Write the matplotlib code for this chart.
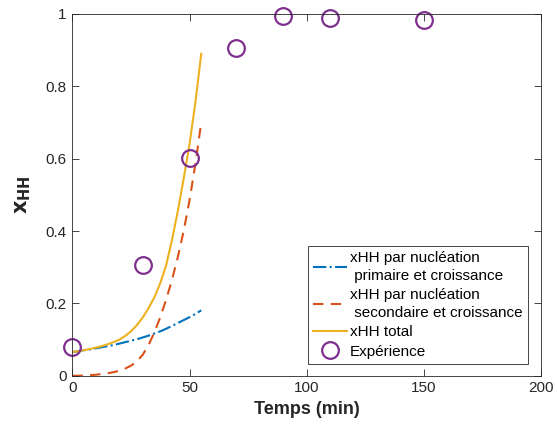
import matplotlib
matplotlib.use("Agg")
import matplotlib.pyplot as plt
from matplotlib.ticker import FuncFormatter

plt.rcParams['font.family'] = ['Liberation Sans', 'DejaVu Sans']

# model time (min)
t_model = [0, 2.5, 5, 7.5, 10, 12.5, 15, 17.5, 20, 22.5, 25, 27.5, 30, 32.5,
           35, 37.5, 40, 42.5, 45, 47.5, 50, 52.5, 55]
x_primaire = [0.066, 0.068, 0.071, 0.073, 0.076, 0.079, 0.082, 0.085, 0.089, 0.093,
              0.097, 0.101, 0.106, 0.111, 0.117, 0.123, 0.130, 0.138, 0.146, 0.154,
              0.162, 0.171, 0.181]
x_secondaire = [0.0, 0.0003, 0.001, 0.002, 0.003, 0.005, 0.007, 0.010, 0.014, 0.020,
                0.028, 0.040, 0.058, 0.085, 0.120, 0.162, 0.210, 0.265, 0.328, 0.400,
                0.485, 0.585, 0.700]
x_total = [0.066, 0.068, 0.071, 0.074, 0.078, 0.082, 0.087, 0.093, 0.100, 0.110,
           0.123, 0.140, 0.161, 0.187, 0.217, 0.256, 0.305, 0.375, 0.455, 0.545,
           0.640, 0.755, 0.890]

# experimental data
t_exp = [0, 30, 50, 70, 90, 110, 150]
x_exp = [0.08, 0.307, 0.602, 0.906, 0.993, 0.99, 0.983]

labels = ["xHH par nucléation\n primaire et croissance",
          "xHH par nucléation\n secondaire et croissance",
          "xHH total",
          "Expérience"]

fig = plt.figure(figsize=(5.57, 4.36), dpi=100)
ax = fig.add_axes([0.130, 0.138, 0.841, 0.830])

ax.plot(t_model, x_primaire, linestyle='-.', color='#0072BD', linewidth=1.5, label=labels[0])
ax.plot(t_model, x_secondaire, linestyle=(0, (5, 3.5)), color='#D95319', linewidth=1.5, label=labels[1])
ax.plot(t_model, x_total, linestyle='-', color='#EDB120', linewidth=1.5, label=labels[2])
ax.plot(t_exp, x_exp, linestyle='none', marker='o', markersize=12, markerfacecolor='none',
        markeredgecolor='#7E2F8E', markeredgewidth=1.6, label=labels[3], clip_on=False)

ax.set_xlim(0, 200)
ax.set_ylim(0, 1)
ax.set_xticks([0, 50, 100, 150, 200])
ax.set_yticks([0, 0.2, 0.4, 0.6, 0.8, 1.0])
ax.yaxis.set_major_formatter(FuncFormatter(lambda v, p: f"{v:g}"))
ax.tick_params(direction='in', top=True, right=True, labelsize=11, length=5,
               width=0.6, colors='#262626', labelcolor='#262626', pad=4)
for s in ax.spines.values():
    s.set_linewidth(0.6)
    s.set_color('#262626')

ax.set_xlabel("Temps (min)", fontsize=13, fontweight='bold', color='#262626')
ax.set_ylabel(r"$\mathbf{x_{HH}}$", fontsize=15, color='#262626', labelpad=9)

leg = ax.legend(loc='lower right', bbox_to_anchor=(0.972, 0.033), fontsize=11,
                frameon=True, fancybox=False, edgecolor='#262626', framealpha=1,
                handlelength=2.2, handletextpad=0.2, borderpad=0.35, labelspacing=0.36,
                borderaxespad=0)
leg.get_frame().set_linewidth(0.6)
for txt in leg.get_texts():
    txt.set_linespacing(1.3)

fig.savefig("out.png", dpi=100)
